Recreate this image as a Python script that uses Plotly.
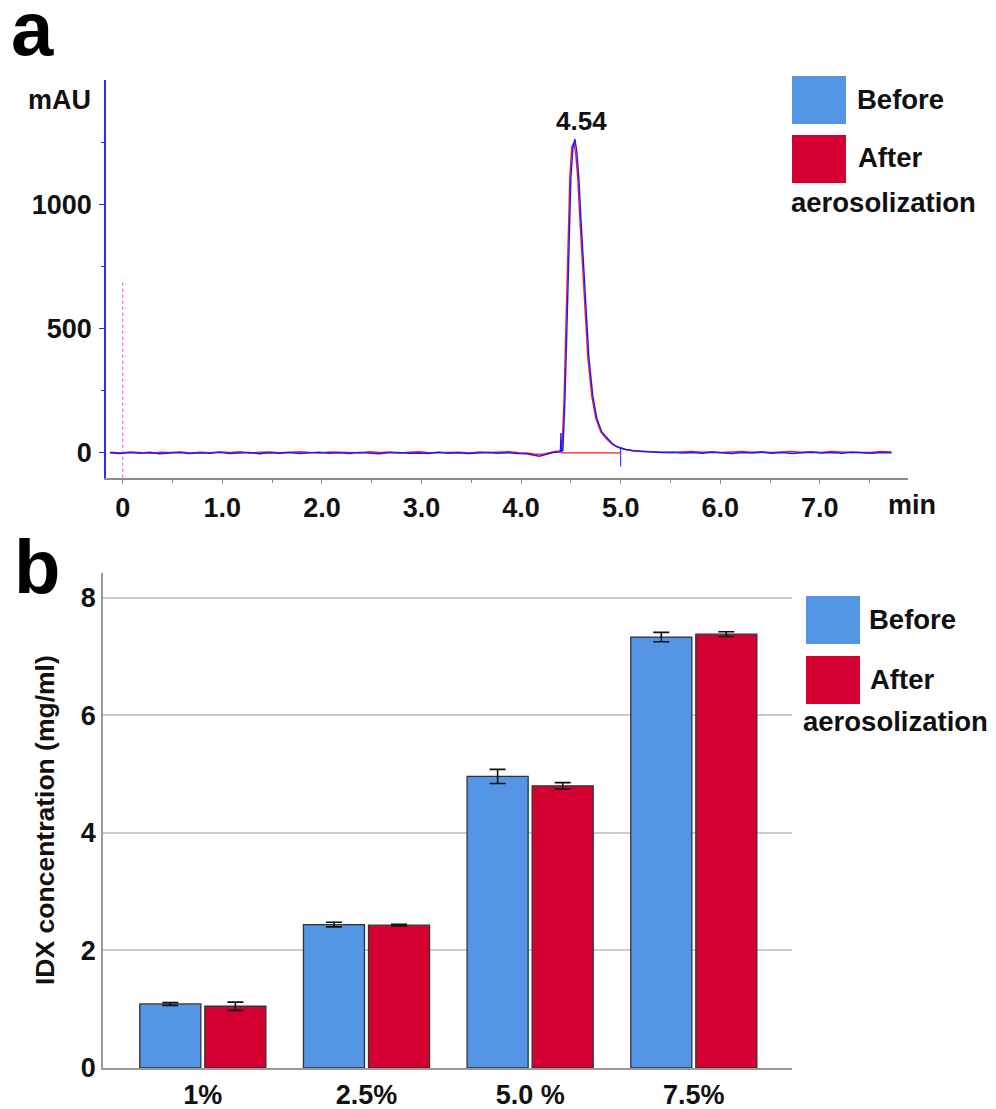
import plotly.graph_objects as go

# ---------------- Panel a: chromatogram ----------------
before_time = [-0.13, -0.03, 0.07, 0.17, 0.27, 0.37, 0.47, 0.57, 0.67, 0.77, 0.87, 0.97,
               1.07, 1.17, 1.27, 1.37, 1.47, 1.57, 1.67, 1.77, 1.87, 1.97, 2.07, 2.17,
               2.27, 2.37, 2.47, 2.57, 2.67, 2.77, 2.87, 2.97, 3.07, 3.17, 3.27, 3.37,
               3.47, 3.57, 3.67, 3.77, 3.87, 3.97, 4.05, 4.12, 4.18, 4.22, 4.27, 4.32,
               4.36, 4.395, 4.40, 4.405, 4.42, 4.44, 4.46, 4.48, 4.50, 4.52, 4.54, 4.56,
               4.58, 4.60, 4.62, 4.65, 4.68, 4.72, 4.76, 4.81, 4.86, 4.92, 4.98, 5.05,
               5.13, 5.22, 5.32, 5.42, 5.52, 5.62, 5.72, 5.82, 5.92, 6.02, 6.12, 6.22,
               6.32, 6.42, 6.52, 6.62, 6.72, 6.82, 6.92, 7.02, 7.12, 7.22, 7.32, 7.42,
               7.52, 7.62, 7.72]
before_mau = [1, -2, 2, -1, 3, -3, 0, 2, -2, 1, -1, 3,
              -2, 0, 2, -3, 1, -1, 2, -2, 0, 3, -1, 1,
              -2, 2, 0, -3, 1, 2, -1, 0, -2, 3, -1, 1,
              -2, 0, 2, -1, 1, -2, -3, -8, -13, -10, -3, 2,
              3, 4, 80, 5, 10, 210, 500, 850, 1110, 1230, 1266, 1215,
              1110, 950, 800, 580, 390, 230, 140, 85, 62, 36, 23, 14,
              9, 6, 4, 2, 3, 0, 2, -1, 3, 1, -2, 2,
              0, 3, -1, 2, -2, 1, 3, 0, 2, -1, 3, 1,
              -1, 2, 1]

after_time = [-0.12, -0.02, 0.08, 0.18, 0.28, 0.38, 0.48, 0.58, 0.68, 0.78, 0.88, 0.98,
              1.08, 1.18, 1.28, 1.38, 1.48, 1.58, 1.68, 1.78, 1.88, 1.98, 2.08, 2.18,
              2.28, 2.38, 2.48, 2.58, 2.68, 2.78, 2.88, 2.98, 3.08, 3.18, 3.28, 3.38,
              3.48, 3.58, 3.68, 3.78, 3.88, 3.98, 4.06, 4.13, 4.19, 4.24, 4.29, 4.34,
              4.38, 4.41, 4.43, 4.45, 4.47, 4.49, 4.51, 4.53, 4.55, 4.57, 4.59, 4.61,
              4.64, 4.67, 4.71, 4.75, 4.80, 4.85, 4.91, 4.97, 5.04, 5.12, 5.21, 5.31,
              5.41, 5.51, 5.61, 5.71, 5.81, 5.91, 6.01, 6.11, 6.21, 6.31, 6.41, 6.51,
              6.61, 6.71, 6.81, 6.91, 7.01, 7.11, 7.21, 7.31, 7.41, 7.51, 7.61, 7.72]
after_mau = [3, 0, 4, 1, -1, 3, 2, 4, 0, 3, 1, 4,
             2, 5, 0, 3, 4, 1, 3, 5, 2, 0, 4, 2,
             3, 1, 5, 2, 4, 0, 3, 5, 1, 2, 4, 3,
             0, 4, 2, 3, 5, 1, 0, -4, -6, -3, 3, 6,
             8, 12, 200, 520, 870, 1120, 1235, 1252, 1200, 1100, 945, 795,
             575, 385, 228, 140, 85, 60, 36, 23, 15, 9, 6, 4,
             5, 2, 4, 6, 3, 5, 2, 4, 6, 3, 5, 2,
             4, 6, 3, 5, 2, 6, 4, 3, 5, 2, 6, 4]

# integration marks drawn by the instrument software
baseline_time = [4.40, 5.00]
baseline_mau = [0, 0]
end_mark_time = [5.00, 5.00]
end_mark_mau = [22, -55]
inject_time = [0, 0]
inject_mau = [-100, 700]
peak_label = "4.54"
peak_time = 4.54
peak_height = 1266

x_ticks_a = [0, 1, 2, 3, 4, 5, 6, 7]
x_ticktext_a = ["0", "1.0", "2.0", "3.0", "4.0", "5.0", "6.0", "7.0"]
x_minor_a = [0.5, 1.5, 2.5, 3.5, 4.5, 5.5, 6.5, 7.5]
y_ticks_a = [0, 500, 1000]
y_minor_a = [250, 750, 1250]

# ---------------- Panel b: bar chart ----------------
categories = ["1%", "2.5%", "5.0 %", "7.5%"]
before_conc = [1.09, 2.44, 4.96, 7.33]
before_err = [0.025, 0.04, 0.12, 0.08]
after_conc = [1.05, 2.43, 4.80, 7.38]
after_err = [0.07, 0.015, 0.055, 0.04]
y_ticks_b = [0, 2, 4, 6, 8]

BLUE_FILL = "#5595E5"
RED_FILL = "#D50032"
LINE_BLUE = "#1a1aff"
LINE_RED = "#ff1a1a"
FONT = "Liberation Sans, Arial, sans-serif"
W, H = 996, 1109


def px(xp):
    return xp / W


def py(yp):
    return 1 - yp / H


fig = go.Figure()

# panel a traces
fig.add_trace(go.Scatter(x=inject_time, y=inject_mau, mode="lines",
                         line=dict(color="#ff33ff", width=1, dash="dot"),
                         xaxis="x", yaxis="y", hoverinfo="skip"))
fig.add_trace(go.Scatter(x=after_time, y=after_mau, mode="lines",
                         line=dict(color=LINE_RED, width=1.4),
                         xaxis="x", yaxis="y", name="After aerosolization"))
fig.add_trace(go.Scatter(x=before_time, y=before_mau, mode="lines",
                         line=dict(color=LINE_BLUE, width=1.4),
                         xaxis="x", yaxis="y", name="Before"))
fig.add_trace(go.Scatter(x=baseline_time, y=baseline_mau, mode="lines",
                         line=dict(color=LINE_RED, width=1.2),
                         xaxis="x", yaxis="y", hoverinfo="skip"))
fig.add_trace(go.Scatter(x=end_mark_time, y=end_mark_mau, mode="lines",
                         line=dict(color=LINE_BLUE, width=1),
                         xaxis="x", yaxis="y", hoverinfo="skip"))

# panel b traces
fig.add_trace(go.Bar(x=categories, y=before_conc, name="Before",
                     marker=dict(color=BLUE_FILL, line=dict(color="#333333", width=1.3)),
                     error_y=dict(type="data", array=before_err, color="#111111",
                                  thickness=1.6, width=8),
                     xaxis="x2", yaxis="y2"))
fig.add_trace(go.Bar(x=categories, y=after_conc, name="After aerosolization",
                     marker=dict(color=RED_FILL, line=dict(color="#333333", width=1.3)),
                     error_y=dict(type="data", array=after_err, color="#111111",
                                  thickness=1.6, width=8),
                     xaxis="x2", yaxis="y2"))

tickfont = dict(family=FONT, size=27, color="#111111", weight="bold")

fig.update_layout(
    width=W, height=H,
    margin=dict(l=0, r=0, t=0, b=0, autoexpand=False),
    paper_bgcolor="white", plot_bgcolor="white",
    showlegend=False,
    barmode="group", bargap=0.205, bargroupgap=0.0615,
    xaxis=dict(domain=[px(106), px(908)], anchor="y", range=[-0.168, 7.885],
               automargin=False,
               showline=True, linecolor="#8c8c8c", linewidth=1.5, mirror=False,
               showgrid=False, zeroline=False,
               tickmode="array", tickvals=x_ticks_a, ticktext=x_ticktext_a,
               ticks="outside", ticklen=4, tickcolor="#8c8c8c", tickwidth=1,
               minor=dict(tickmode="array", tickvals=x_minor_a, ticks="outside",
                          ticklen=3, tickcolor="#8c8c8c", showgrid=False),
               tickfont=tickfont, ticklabelstandoff=1),
    yaxis=dict(domain=[py(478), py(80)], anchor="x", range=[-101, 1504],
               automargin=False,
               showline=True, linecolor="#2b2bff", linewidth=1.5,
               showgrid=False, zeroline=False,
               tickmode="array", tickvals=y_ticks_a,
               ticks="outside", ticklen=5, tickcolor="#2b2bff", tickwidth=1,
               minor=dict(tickmode="array", tickvals=y_minor_a, ticks="outside",
                          ticklen=3, tickcolor="#2b2bff", showgrid=False),
               tickfont=tickfont, ticklabelstandoff=2),
    xaxis2=dict(domain=[px(103), px(792)], anchor="y2", type="category",
                range=[-0.61, 3.60], automargin=False,
                showline=True, linecolor="#9a9a9a", linewidth=1.8,
                showgrid=False, zeroline=False, ticks="",
                tickfont=tickfont, ticklabelstandoff=2),
    yaxis2=dict(domain=[py(1068), py(573)], anchor="x2", range=[0, 8.42],
                automargin=False,
                showline=True, linecolor="#9a9a9a", linewidth=1.8,
                showgrid=True, gridcolor="#cccccc", gridwidth=1.5, zeroline=False,
                tickmode="array", tickvals=y_ticks_b,
                ticks="", tickfont=tickfont, ticklabelstandoff=0),
)

ann = []
# panel letters
ann.append(dict(x=px(9), y=py(28), xref="paper", yref="paper", text="a",
                showarrow=False, xanchor="left", yanchor="middle",
                font=dict(family=FONT, size=76, color="black", weight="bold")))
ann.append(dict(x=px(12), y=py(566), xref="paper", yref="paper", text="b",
                showarrow=False, xanchor="left", yanchor="middle",
                font=dict(family=FONT, size=76, color="black", weight="bold")))
# axis unit labels panel a
ann.append(dict(x=px(93), y=py(100), xref="paper", yref="paper", text="mAU",
                showarrow=False, xanchor="right", yanchor="middle", font=tickfont))
ann.append(dict(x=px(886), y=py(505), xref="paper", yref="paper", text="min",
                showarrow=False, xanchor="left", yanchor="middle", font=tickfont))
# peak label
ann.append(dict(x=peak_time, y=peak_height, xref="x", yref="y", text=peak_label,
                showarrow=False, xanchor="center", yanchor="bottom", xshift=7, yshift=1,
                font=dict(family=FONT, size=26, color="#111111", weight="bold")))
# y title panel b
ann.append(dict(x=px(45), y=py(820), xref="paper", yref="paper",
                text="IDX concentration (mg/ml)", textangle=-90,
                showarrow=False, xanchor="center", yanchor="middle",
                font=dict(family=FONT, size=26.5, color="#111111", weight="bold")))

shapes = []
legfont = dict(family=FONT, size=27.5, color="#111111", weight="bold")


def add_legend(x0, y_blue, y_red, text_x, y_aero, aero_x):
    shapes.append(dict(type="rect", xref="paper", yref="paper",
                       x0=px(x0), x1=px(x0 + 54), y0=py(y_blue + 48), y1=py(y_blue),
                       fillcolor=BLUE_FILL, line=dict(width=0)))
    shapes.append(dict(type="rect", xref="paper", yref="paper",
                       x0=px(x0), x1=px(x0 + 54), y0=py(y_red + 48), y1=py(y_red),
                       fillcolor=RED_FILL, line=dict(width=0)))
    ann.append(dict(x=px(text_x), y=py(y_blue + 23), xref="paper", yref="paper",
                    text="Before", showarrow=False, xanchor="left", yanchor="middle",
                    font=legfont))
    ann.append(dict(x=px(text_x + 1), y=py(y_red + 23), xref="paper", yref="paper",
                    text="After", showarrow=False, xanchor="left", yanchor="middle",
                    font=legfont))
    ann.append(dict(x=px(aero_x), y=py(y_aero), xref="paper", yref="paper",
                    text="aerosolization", showarrow=False, xanchor="left",
                    yanchor="middle", font=legfont))


add_legend(792, 76, 135, 855, 203, 789)
add_legend(806, 596, 656, 867, 721, 801)

fig.update_layout(annotations=ann, shapes=shapes)

fig.write_html("out.html")
